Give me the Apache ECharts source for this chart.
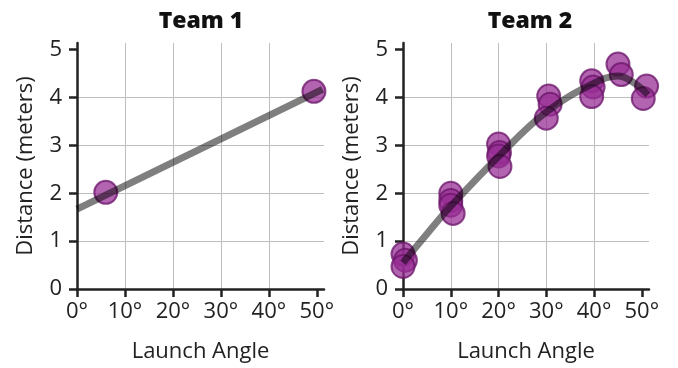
<!DOCTYPE html>
<html><head><meta charset="utf-8">
<script src="https://cdn.jsdelivr.net/npm/echarts@6/dist/echarts.min.js"></script>
<style>html,body{margin:0;padding:0;background:#fff}#c{width:678px;height:368px}</style>
</head><body><div id="c"></div>
<script>
const titles = ["Team 1", "Team 2"];
const xTicks = [0, 10, 20, 30, 40, 50];
const yTicks = [0, 1, 2, 3, 4, 5];
const team1Points = [[6.0, 2.02], [49.4, 4.13]];
const team1Trend = [[0, 1.67], [51.2, 4.17]];
const team2Points = [
  [0, 0.73], [0.5, 0.6], [0, 0.47],
  [10, 2.0], [10, 1.85], [10, 1.75], [10.5, 1.58],
  [20, 3.03], [20.2, 2.85], [20, 2.78], [20.3, 2.56],
  [30.5, 4.03], [30.8, 3.86], [30, 3.57],
  [39.5, 4.35], [39.8, 4.22], [39.5, 4.02],
  [45, 4.7], [45.7, 4.48],
  [51, 4.24], [50.3, 3.98]
];
const team2Trend = [[0, 0.55], [5, 1.15], [10, 1.73], [20, 2.77], [30, 3.7], [40, 4.3], [45, 4.45], [48, 4.33], [51.3, 4.06]];
const xName = "Launch Angle";
const yName = "Distance (meters)";

const FONT = "Open Sans";
const ink = "#222";
const grids = [
  {left: 77, top: 43, width: 247, height: 246},
  {left: 403, top: 43, width: 246, height: 246}
];
function xAxis(i) {
  return {
    gridIndex: i, type: 'value', min: 0, max: 51.5, interval: 10,
    name: xName, nameLocation: 'middle', nameGap: 52,
    nameTextStyle: {fontFamily: FONT, fontSize: 22, color: ink},
    axisLine: {show: true, onZero: false, lineStyle: {color: ink, width: 2.5}},
    axisTick: {show: true, length: 8, lineStyle: {color: ink, width: 2.5}, customValues: xTicks},
    axisLabel: {fontFamily: FONT, fontSize: 22, color: ink, margin: 12, customValues: xTicks, formatter: v => v + '°'},
    splitLine: {show: true, showMinLine: false, showMaxLine: false, lineStyle: {color: '#bdbdbd', width: 1}}
  };
}
function yAxis(i) {
  return {
    gridIndex: i, type: 'value', min: 0, max: 5.14, interval: 1,
    name: yName, nameLocation: 'middle', nameGap: 40,
    nameTextStyle: {fontFamily: FONT, fontSize: 22, color: ink},
    axisLine: {show: true, onZero: false, lineStyle: {color: ink, width: 2.5}},
    axisTick: {show: true, length: 8, lineStyle: {color: ink, width: 2.5}, customValues: yTicks},
    axisLabel: {fontFamily: FONT, fontSize: 22, color: ink, margin: 15, customValues: yTicks},
    splitLine: {show: true, showMinLine: false, showMaxLine: false, lineStyle: {color: '#bdbdbd', width: 1}}
  };
}
const markerStyle = {color: 'rgba(150,45,148,0.92)', borderColor: 'rgba(108,22,106,0.95)', borderWidth: 2};
function scatter(i, data) {
  return {type: 'scatter', xAxisIndex: i, yAxisIndex: i, data: data, symbolSize: 23, itemStyle: markerStyle, z: 2, silent: true};
}
function trend(i, data) {
  return {type: 'line', xAxisIndex: i, yAxisIndex: i, data: data, smooth: 0.4, showSymbol: false, symbol: 'none',
    lineStyle: {color: 'rgba(0,0,0,0.5)', width: 7, cap: 'butt'}, z: 3, silent: true};
}
const chart = echarts.init(document.getElementById('c'), null, {renderer: 'canvas'});
chart.setOption({
  animation: false,
  backgroundColor: '#fff',
  title: titles.map((t, i) => ({
    text: t, left: i === 0 ? 196 : 525, top: 5, textAlign: 'center',
    textStyle: {fontFamily: FONT, fontWeight: 800, fontSize: 23, color: '#111'}
  })),
  grid: grids,
  xAxis: [xAxis(0), xAxis(1)],
  yAxis: [yAxis(0), yAxis(1)],
  series: [
    scatter(0, team1Points), trend(0, team1Trend),
    scatter(1, team2Points), trend(1, team2Trend)
  ]
});
</script></body></html>
